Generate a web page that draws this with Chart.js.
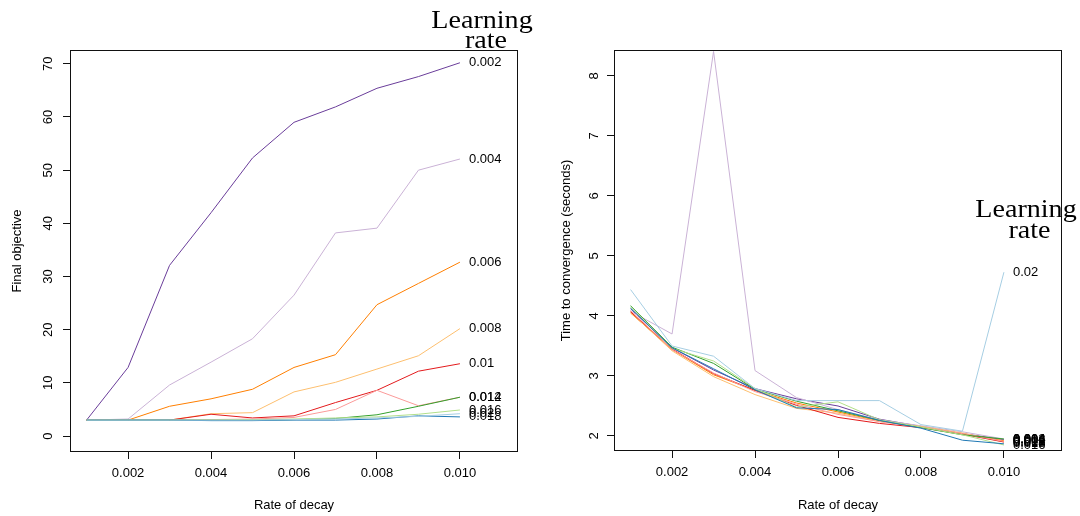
<!DOCTYPE html>
<html>
<head>
<meta charset="utf-8">
<title>Decay rate vs learning rate</title>
<script src="https://cdn.jsdelivr.net/npm/chart.js@4.4.1/dist/chart.umd.min.js"></script>
<style>
  html, body { margin: 0; padding: 0; background: #ffffff; }
  #wrap { position: relative; width: 1080px; height: 516px; overflow: hidden; }
  #wrap canvas { position: absolute; top: 0; }
</style>
</head>
<body>
<div id="wrap">
  <canvas id="objChart" width="540" height="516" style="left:0px"></canvas>
  <canvas id="timeChart" width="540" height="516" style="left:540px"></canvas>
</div>
<script>
// ---- data -------------------------------------------------------------
const decayRates = [0.001, 0.002, 0.003, 0.004, 0.005, 0.006, 0.007, 0.008, 0.009, 0.010];
const learningRates = ['0.002', '0.004', '0.006', '0.008', '0.01', '0.012', '0.014', '0.016', '0.018', '0.02'];

const xTickValues = [0.002, 0.004, 0.006, 0.008, 0.010];
const xTickLabels = ['0.002', '0.004', '0.006', '0.008', '0.010'];
const objTickValues = [0, 10, 20, 30, 40, 50, 60, 70];
const objTickLabels = ['0', '10', '20', '30', '40', '50', '60', '70'];
const timeTickValues = [2, 3, 4, 5, 6, 7, 8];
const timeTickLabels = ['2', '3', '4', '5', '6', '7', '8'];

// final objective, one array per learning rate
const objLr002 = [3.0, 12.9, 32.1, 42.0, 52.3, 59.0, 61.9, 65.4, 67.6, 70.2];
const objLr004 = [3.0, 3.2, 9.6, 13.9, 18.3, 26.5, 38.2, 39.1, 50.0, 52.1];
const objLr006 = [3.0, 3.0, 5.6, 7.0, 8.8, 12.9, 15.3, 24.7, 28.7, 32.7];
const objLr008 = [3.0, 3.0, 3.0, 4.2, 4.4, 8.3, 10.1, 12.6, 15.1, 20.2];
const objLr010 = [3.0, 3.0, 3.0, 4.1, 3.4, 3.8, 6.3, 8.6, 12.2, 13.6];
const objLr012 = [3.0, 3.0, 3.0, 3.1, 3.2, 3.5, 5.0, 8.6, 5.7, 7.3];
const objLr014 = [3.0, 3.0, 3.0, 3.0, 3.0, 3.1, 3.3, 4.0, 5.6, 7.3];
const objLr016 = [3.0, 3.0, 3.0, 3.0, 3.1, 3.2, 3.4, 3.6, 4.1, 4.9];
const objLr018 = [3.0, 3.0, 3.0, 2.9, 2.9, 3.0, 3.0, 3.2, 3.8, 3.6];
const objLr020 = [3.0, 3.0, 3.0, 3.0, 3.0, 3.1, 3.2, 3.4, 3.7, 4.2];

// time to convergence (seconds), one array per learning rate
const timeLr002 = [4.12, 3.47, 3.10, 2.79, 2.62, 2.50, 2.28, 2.16, 2.04, 1.94];
const timeLr004 = [4.08, 3.70, 8.41, 3.09, 2.64, 2.44, 2.27, 2.17, 2.07, 1.95];
const timeLr006 = [4.05, 3.44, 3.02, 2.76, 2.55, 2.40, 2.25, 2.15, 2.04, 1.92];
const timeLr008 = [4.06, 3.42, 2.99, 2.69, 2.46, 2.38, 2.24, 2.16, 2.05, 1.90];
const timeLr010 = [4.07, 3.45, 3.04, 2.76, 2.51, 2.31, 2.21, 2.14, 2.03, 1.90];
const timeLr012 = [4.09, 3.44, 3.05, 2.74, 2.53, 2.36, 2.24, 2.15, 2.04, 1.91];
const timeLr014 = [4.17, 3.48, 3.21, 2.78, 2.58, 2.42, 2.26, 2.14, 2.02, 1.95];
const timeLr016 = [4.15, 3.46, 3.25, 2.79, 2.48, 2.57, 2.27, 2.15, 2.02, 1.85];
const timeLr018 = [4.13, 3.47, 3.12, 2.77, 2.47, 2.44, 2.26, 2.13, 1.93, 1.87];
const timeLr020 = [4.44, 3.50, 3.33, 2.79, 2.59, 2.59, 2.59, 2.19, 2.08, 4.73];

const objSeries = [objLr002, objLr004, objLr006, objLr008, objLr010, objLr012, objLr014, objLr016, objLr018, objLr020];
const timeSeries = [timeLr002, timeLr004, timeLr006, timeLr008, timeLr010, timeLr012, timeLr014, timeLr016, timeLr018, timeLr020];

// ---- styling ----------------------------------------------------------
// ColorBrewer "Paired", reversed
const palette = ['#6A3D9A', '#CAB2D6', '#FF7F00', '#FDBF6F', '#E31A1C',
                 '#FB9A99', '#33A02C', '#B2DF8A', '#1F78B4', '#A6CEE3'];
const SANS = '"Liberation Sans", Arial, Helvetica, sans-serif';
const SERIF = '"Liberation Serif", "Times New Roman", serif';
const INK = '#111';

// box around the plot, end-of-line labels and the "Learning rate" heading
const decorPlugin = {
  id: 'decor',
  afterDatasetsDraw(chart, args, opts) {
    const ctx = chart.ctx;
    const a = chart.chartArea;
    const xs = chart.scales.x, ys = chart.scales.y;
    ctx.save();
    // box
    ctx.strokeStyle = INK;
    ctx.lineWidth = 1;
    ctx.strokeRect(Math.round(a.left) + 0.5, Math.round(a.top) + 0.5,
                   Math.round(a.right - a.left) - 1, Math.round(a.bottom - a.top) - 1);
    // labels at the end of each line
    ctx.fillStyle = '#000';
    ctx.font = '13px ' + SANS;
    ctx.textAlign = 'left';
    ctx.textBaseline = 'middle';
    chart.data.datasets.forEach(ds => {
      const last = ds.data[ds.data.length - 1];
      const px = xs.getPixelForValue(last.x) + 9;
      const py = ys.getPixelForValue(last.y);
      ctx.fillText(ds.label, px, py);
    });
    // heading
    ctx.font = '26px ' + SERIF;
    ctx.textAlign = 'center';
    ctx.textBaseline = 'alphabetic';
    opts.heading.forEach(h => {
      ctx.save();
      ctx.translate(h.x, h.y);
      ctx.scale(1.08, 1);
      ctx.fillText(h.text, 0, 0);
      ctx.restore();
    });
    ctx.restore();
  }
};

function buildDatasets(series) {
  return series.map((vals, i) => ({
    label: learningRates[i],
    data: vals.map((v, k) => ({ x: decayRates[k], y: v })),
    borderColor: palette[i],
    backgroundColor: palette[i],
    borderWidth: 1,
    pointRadius: 0,
    pointHoverRadius: 0,
    tension: 0,
    fill: false,
    order: series.length - i
  }));
}

function makeChart(canvasId, series, cfg) {
  const tickFont = { family: SANS, size: 13 };
  return new Chart(document.getElementById(canvasId), {
    type: 'line',
    data: { datasets: buildDatasets(series) },
    options: {
      responsive: false,
      animation: false,
      devicePixelRatio: 1,
      layout: { padding: { top: cfg.top, right: cfg.right, left: 0, bottom: 0 } },
      plugins: {
        legend: { display: false },
        tooltip: { enabled: false },
        decor: { heading: cfg.heading }
      },
      scales: {
        x: {
          type: 'linear',
          min: 0.0006,
          max: 0.0114,
          afterBuildTicks: s => { s.ticks = xTickValues.map(v => ({ value: v })); },
          afterFit: s => { s.height = cfg.bottomH; },
          grid: { display: true, drawOnChartArea: false, drawTicks: true, tickLength: 7, color: INK, lineWidth: 1 },
          border: { display: false },
          ticks: {
            autoSkip: false, minRotation: 0, maxRotation: 0,
            callback: (v, i) => xTickLabels[i],
            color: '#000', font: tickFont, padding: 7
          },
          title: { display: true, text: 'Rate of decay', color: '#000', font: tickFont, padding: { top: 0, bottom: 2.5 } }
        },
        y: {
          type: 'linear',
          min: cfg.yMin,
          max: cfg.yMax,
          afterBuildTicks: s => { s.ticks = cfg.yTicks.map(v => ({ value: v })); },
          afterFit: s => { s.width = cfg.leftW; },
          grid: { display: true, drawOnChartArea: false, drawTicks: true, tickLength: 7, color: INK, lineWidth: 1 },
          border: { display: false },
          ticks: {
            autoSkip: false, minRotation: 90, maxRotation: 90, crossAlign: 'center',
            callback: (v, i) => cfg.yLabels[i],
            color: '#000', font: tickFont, padding: cfg.tickPad
          },
          title: { display: true, text: cfg.yTitle, color: '#000', font: tickFont, padding: { top: cfg.titlePad, bottom: 0 } }
        }
      }
    },
    plugins: [decorPlugin]
  });
}

makeChart('objChart', objSeries, {
  top: 50, right: 22, bottomH: 64, leftW: 70,
  yMin: -3.0, yMax: 72.6,
  yTicks: objTickValues, yLabels: objTickLabels,
  yTitle: 'Final objective', tickPad: 7.5, titlePad: 9.2,
  heading: [ { text: 'Learning', x: 482, y: 28 }, { text: 'rate', x: 486, y: 48 } ]
});

makeChart('timeChart', timeSeries, {
  top: 50, right: 18, bottomH: 65, leftW: 74,
  yMin: 1.75, yMax: 8.433,
  yTicks: timeTickValues, yLabels: timeTickLabels,
  yTitle: 'Time to convergence (seconds)', tickPad: 9, titlePad: 18.2,
  heading: [ { text: 'Learning', x: 486, y: 217 }, { text: 'rate', x: 489.5, y: 238 } ]
});
</script>
</body>
</html>
